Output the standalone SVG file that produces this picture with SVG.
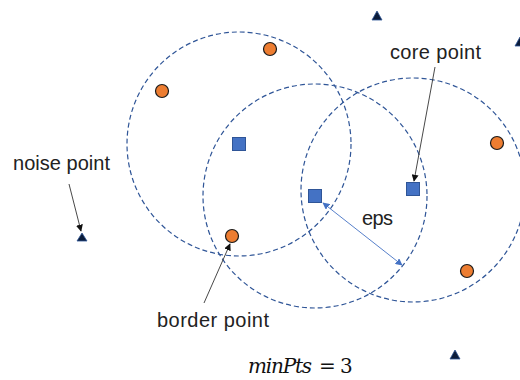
<svg xmlns="http://www.w3.org/2000/svg" width="520" height="380" viewBox="0 0 520 380">
<style>
.rng{fill:none;stroke:#2f5597;stroke-width:1.2;stroke-dasharray:5 3}
.bp{fill:#ed7d31;stroke:#1a1a1a;stroke-width:1.2}
.cp{fill:#4472c4;stroke:#2f5597;stroke-width:1}
.np{fill:#0b1c3a;stroke:#2f5597;stroke-width:0.8}
.lbl{font-family:"Liberation Sans",Arial,sans-serif;font-size:20px;fill:#222}
.ptr{stroke:#333;stroke-width:0.9;fill:none}
.math{font-family:"DejaVu Serif","Liberation Serif",serif;font-size:20px;fill:#111}
</style>
<defs>
<marker id="ah" viewBox="0 0 10 10" refX="9" refY="5" markerWidth="7" markerHeight="7" orient="auto-start-reverse" markerUnits="userSpaceOnUse">
<path d="M0,0 L10,5 L0,10 z" fill="#111"/>
</marker>
<marker id="ahb" viewBox="0 0 10 10" refX="9" refY="5" markerWidth="7" markerHeight="7" orient="auto-start-reverse" markerUnits="userSpaceOnUse">
<path d="M0,0 L10,5 L0,10 z" fill="#4472c4"/>
</marker>
</defs>
<rect width="520" height="380" fill="#fff"/>
<g id="ranges">
<circle class="rng" cx="239" cy="144" r="112"/>
<circle class="rng" cx="315" cy="196" r="112"/>
<circle class="rng" cx="413" cy="190" r="112"/>
</g>
<g id="connectors">
<line class="ptr" x1="69" y1="184" x2="81" y2="231" marker-end="url(#ah)"/>
<line class="ptr" x1="435" y1="67" x2="414" y2="181" marker-end="url(#ah)"/>
<line class="ptr" x1="204" y1="303" x2="230" y2="244" marker-end="url(#ah)"/>
<line x1="323" y1="203" x2="402" y2="265" stroke="#4472c4" stroke-width="0.9" marker-start="url(#ahb)" marker-end="url(#ahb)"/>
</g>
<g id="core-points">
<rect class="cp" x="232.5" y="137.5" width="13" height="13"/>
<rect class="cp" x="308.5" y="189.5" width="13" height="13"/>
<rect class="cp" x="406.5" y="182.5" width="13" height="13"/>
</g>
<g id="border-points">
<circle class="bp" cx="270" cy="49" r="6.5"/>
<circle class="bp" cx="162" cy="91" r="6.5"/>
<circle class="bp" cx="232" cy="236" r="6.5"/>
<circle class="bp" cx="497" cy="143" r="6.5"/>
<circle class="bp" cx="467" cy="271" r="6.5"/>
</g>
<g id="noise-points">
<polygon class="np" points="377,11 382,20 372,20"/>
<polygon class="np" points="520,37 525,46 515,46"/>
<polygon class="np" points="82,233 87,241 77,241"/>
<polygon class="np" points="455,350 460,359 450,359"/>
</g>
<g id="labels">
<text class="lbl" x="13" y="170" textLength="97">noise point</text>
<text class="lbl" x="390" y="59" textLength="91">core point</text>
<text class="lbl" x="157" y="327" textLength="112">border point</text>
<text class="lbl" x="362" y="225" textLength="31">eps</text>
<text class="math" y="373"><tspan x="248" font-style="italic" textLength="64">minPts</tspan><tspan x="319">=</tspan><tspan x="340">3</tspan></text>
</g>
</svg>
